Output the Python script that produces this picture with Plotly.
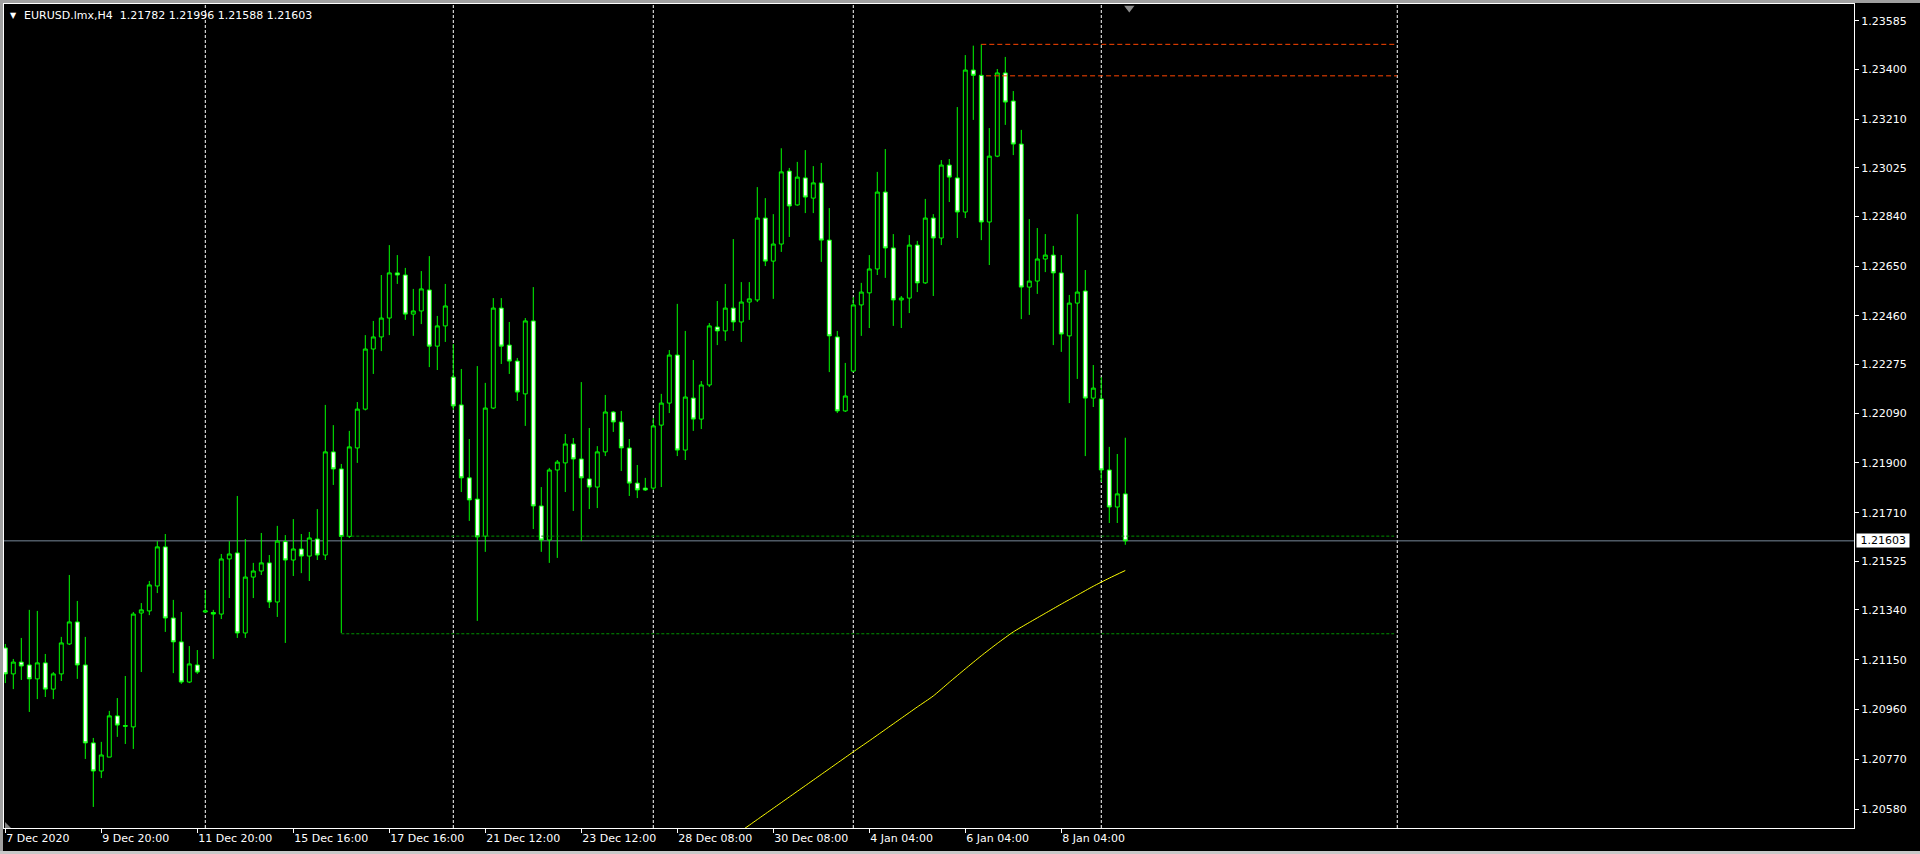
import plotly.graph_objects as go

# ---------------- data ----------------
bars = list(range(141))

opens = [1.21195, 1.21096, 1.21141, 1.21130, 1.21077, 1.21138, 1.21038, 1.21096, 1.21210, 1.21294,
         1.21130, 1.20833, 1.20726, 1.20779, 1.20936, 1.20899, 1.20894, 1.21328, 1.21336, 1.21431,
         1.21580, 1.21309, 1.21218, 1.21065, 1.21130, 1.21332, 1.21330, 1.21324, 1.21534, 1.21557,
         1.21252, 1.21465, 1.21488, 1.21519, 1.21370, 1.21600, 1.21530, 1.21572, 1.21545, 1.21610,
         1.21549, 1.21942, 1.21877, 1.21620, 1.21957, 1.22105, 1.22334, 1.22380, 1.22452, 1.22624,
         1.22616, 1.22467, 1.22479, 1.22559, 1.22345, 1.22422, 1.22227, 1.22121, 1.21843, 1.21762,
         1.21621, 1.22109, 1.22490, 1.22349, 1.22288, 1.22163, 1.22441, 1.21736, 1.21606, 1.21873,
         1.21900, 1.21972, 1.21915, 1.21839, 1.21808, 1.21942, 1.22094, 1.22056, 1.21957, 1.21823,
         1.21804, 1.21804, 1.22044, 1.22128, 1.22311, 1.21949, 1.22147, 1.22067, 1.22197, 1.22418,
         1.22403, 1.22490, 1.22437, 1.22513, 1.22521, 1.22833, 1.22669, 1.22734, 1.23012, 1.22883,
         1.22986, 1.22909, 1.22967, 1.22749, 1.22380, 1.22098, 1.22250, 1.22502, 1.22548, 1.22639,
         1.22932, 1.22719, 1.22521, 1.22528, 1.22730, 1.22586, 1.22833, 1.22757, 1.23035, 1.22986,
         1.22856, 1.23397, 1.23377, 1.22818, 1.23069, 1.23386, 1.23279, 1.23115, 1.22570, 1.22593,
         1.22677, 1.22692, 1.22624, 1.22384, 1.22509, 1.22555, 1.22147, 1.22144, 1.21873, 1.21732,
         1.21782]

highs = [1.21210, 1.21153, 1.21233, 1.21340, 1.21336, 1.21172, 1.21103, 1.21237, 1.21473, 1.21374,
         1.21237, 1.20852, 1.20837, 1.20955, 1.21004, 1.21088, 1.21332, 1.21366, 1.21450, 1.21602,
         1.21629, 1.21378, 1.21332, 1.21202, 1.21187, 1.21416, 1.21340, 1.21553, 1.21602, 1.21774,
         1.21610, 1.21519, 1.21633, 1.21549, 1.21660, 1.21625, 1.21686, 1.21629, 1.21637, 1.21724,
         1.22121, 1.22044, 1.21896, 1.22022, 1.22132, 1.22387, 1.22441, 1.22616, 1.22730, 1.22692,
         1.22643, 1.22563, 1.22631, 1.22688, 1.22460, 1.22582, 1.22353, 1.22258, 1.21991, 1.22269,
         1.22205, 1.22528, 1.22528, 1.22437, 1.22300, 1.22452, 1.22570, 1.21808, 1.21881, 1.21911,
         1.22010, 1.21995, 1.22208, 1.22033, 1.21964, 1.22159, 1.22098, 1.22098, 1.21991, 1.21892,
         1.21843, 1.22071, 1.22163, 1.22330, 1.22506, 1.22403, 1.22292, 1.22212, 1.22433, 1.22517,
         1.22582, 1.22753, 1.22589, 1.22589, 1.22951, 1.22909, 1.22848, 1.23099, 1.23024, 1.23047,
         1.23092, 1.23031, 1.23043, 1.22871, 1.22403, 1.22281, 1.22532, 1.22586, 1.22692, 1.23009,
         1.23096, 1.22772, 1.22536, 1.22768, 1.22746, 1.22906, 1.22848, 1.23054, 1.23058, 1.23256,
         1.23454, 1.23490, 1.23495, 1.23176, 1.23401, 1.23447, 1.23317, 1.23169, 1.22829, 1.22795,
         1.22772, 1.22727, 1.22692, 1.22540, 1.22848, 1.22635, 1.22273, 1.22227, 1.21961, 1.21934,
         1.21996]

lows = [1.21061, 1.21038, 1.21073, 1.20951, 1.21000, 1.21008, 1.21000, 1.21069, 1.21206, 1.21077,
        1.20772, 1.20589, 1.20699, 1.20779, 1.20856, 1.20829, 1.20810, 1.21103, 1.21320, 1.21404,
        1.21256, 1.21099, 1.21058, 1.21061, 1.21096, 1.21328, 1.21153, 1.21305, 1.21385, 1.21233,
        1.21233, 1.21385, 1.21473, 1.21347, 1.21313, 1.21214, 1.21469, 1.21480, 1.21450, 1.21530,
        1.21530, 1.21816, 1.21252, 1.21614, 1.21900, 1.22100, 1.22239, 1.22326, 1.22387, 1.22582,
        1.22445, 1.22384, 1.22429, 1.22265, 1.22254, 1.22361, 1.22102, 1.21789, 1.21679, 1.21298,
        1.21561, 1.22105, 1.22277, 1.22239, 1.22136, 1.22041, 1.21648, 1.21561, 1.21519, 1.21538,
        1.21789, 1.21717, 1.21602, 1.21724, 1.21728, 1.21926, 1.22018, 1.21869, 1.21774, 1.21766,
        1.21793, 1.21797, 1.21808, 1.22090, 1.21926, 1.21911, 1.22022, 1.22029, 1.22189, 1.22349,
        1.22365, 1.22403, 1.22361, 1.22445, 1.22513, 1.22650, 1.22525, 1.22704, 1.22761, 1.22880,
        1.22852, 1.22852, 1.22666, 1.22246, 1.22090, 1.22094, 1.22246, 1.22384, 1.22414, 1.22616,
        1.22605, 1.22422, 1.22414, 1.22471, 1.22551, 1.22582, 1.22536, 1.22730, 1.22894, 1.22757,
        1.22833, 1.23207, 1.22749, 1.22654, 1.23065, 1.23188, 1.23073, 1.22448, 1.22464, 1.22544,
        1.22627, 1.22349, 1.22323, 1.22128, 1.22220, 1.21926, 1.22113, 1.21827, 1.21671, 1.21671,
        1.21588]

closes = [1.21096, 1.21141, 1.21126, 1.21077, 1.21138, 1.21038, 1.21096, 1.21214, 1.21294, 1.21130,
          1.20833, 1.20726, 1.20787, 1.20936, 1.20901, 1.20897, 1.21324, 1.21340, 1.21435, 1.21580,
          1.21309, 1.21218, 1.21065, 1.21134, 1.21103, 1.21336, 1.21324, 1.21534, 1.21553, 1.21252,
          1.21465, 1.21488, 1.21519, 1.21370, 1.21602, 1.21530, 1.21572, 1.21545, 1.21614, 1.21549,
          1.21942, 1.21877, 1.21620, 1.21961, 1.22105, 1.22334, 1.22380, 1.22452, 1.22624, 1.22616,
          1.22467, 1.22479, 1.22563, 1.22345, 1.22422, 1.22498, 1.22117, 1.21843, 1.21759, 1.21618,
          1.22109, 1.22490, 1.22345, 1.22288, 1.22170, 1.22441, 1.21736, 1.21606, 1.21873, 1.21903,
          1.21972, 1.21915, 1.21843, 1.21808, 1.21942, 1.22094, 1.22056, 1.21957, 1.21823, 1.21797,
          1.21797, 1.22041, 1.22128, 1.22311, 1.21949, 1.22151, 1.22067, 1.22197, 1.22422, 1.22403,
          1.22490, 1.22437, 1.22513, 1.22525, 1.22833, 1.22669, 1.22734, 1.23009, 1.22879, 1.22989,
          1.22913, 1.22967, 1.22749, 1.22384, 1.22098, 1.22155, 1.22502, 1.22551, 1.22639, 1.22932,
          1.22719, 1.22521, 1.22528, 1.22730, 1.22586, 1.22833, 1.22757, 1.23035, 1.22989, 1.22856,
          1.23397, 1.23377, 1.22818, 1.23069, 1.23386, 1.23275, 1.23115, 1.22570, 1.22593, 1.22677,
          1.22692, 1.22624, 1.22391, 1.22509, 1.22551, 1.22147, 1.22185, 1.21873, 1.21732, 1.21782,
          1.21603]

# moving average (yellow) read at selected bars
ma_bars = [90, 92, 94, 96, 98, 100, 102, 104, 106, 108, 110, 112, 114, 116, 118, 120,
           122, 124, 126, 128, 130, 132, 134, 136, 138, 140]
ma_values = [1.20455, 1.20498, 1.20541, 1.20584, 1.20627, 1.20670, 1.20713, 1.20756, 1.20799,
             1.20841, 1.20884, 1.20927, 1.20970, 1.21012, 1.21064, 1.21115, 1.21165, 1.21212,
             1.21256, 1.21292, 1.21327, 1.21362, 1.21396, 1.21430, 1.21461, 1.21490]

# date axis
tick_bars = [0, 12, 24, 36, 48, 60, 72, 84, 96, 108, 120, 132]
tick_labels = ["7 Dec 2020", "9 Dec 20:00", "11 Dec 20:00", "15 Dec 16:00", "17 Dec 16:00",
               "21 Dec 12:00", "23 Dec 12:00", "28 Dec 08:00", "30 Dec 08:00", "4 Jan 04:00",
               "6 Jan 04:00", "8 Jan 04:00"]

# weekly period separators (bar index)
separator_bars = [25, 56, 81, 106, 137, 174]

# price axis labels
price_ticks = [1.23585, 1.23400, 1.23210, 1.23025, 1.22840, 1.22650, 1.22460, 1.22275, 1.22090,
               1.21900, 1.21710, 1.21525, 1.21340, 1.21150, 1.20960, 1.20770, 1.20580]

# horizontal level lines
green_levels = [1.21621, 1.21249]
green_start, green_end = 42, 173.6
red_levels = [1.23495, 1.23375]
red_starts = [122, 122.6]
red_end = 174

symbol = "EURUSD.lmx,H4"
last_ohlc = [1.21782, 1.21996, 1.21588, 1.21603]
current_price = 1.21603

# ---------------- figure ----------------
FONT = "DejaVu Sans"
x_range = [-0.1625, 231.09]
y_range = [1.205088, 1.236487]

fig = go.Figure()

for lvl in green_levels:
    fig.add_trace(go.Scatter(x=[green_start, green_end], y=[lvl, lvl], mode="lines",
                             line=dict(color="#009000", width=1, dash="3px,2px"),
                             hoverinfo="skip", showlegend=False))
for lvl, st in zip(red_levels, red_starts):
    fig.add_trace(go.Scatter(x=[st, red_end], y=[lvl, lvl], mode="lines",
                             line=dict(color="#FF4500", width=1, dash="5px,3px"),
                             hoverinfo="skip", showlegend=False))

fig.add_trace(go.Scatter(x=ma_bars, y=ma_values, mode="lines",
                         line=dict(color="#FFFF00", width=1, shape="spline", smoothing=0.6),
                         hoverinfo="skip", showlegend=False))

fig.add_trace(go.Candlestick(
    x=bars, open=opens, high=highs, low=lows, close=closes,
    increasing=dict(line=dict(color="#00FF00", width=1), fillcolor="#000000"),
    decreasing=dict(line=dict(color="#00FF00", width=1), fillcolor="#FFFFFF"),
    whiskerwidth=0, hoverinfo="skip", showlegend=False))

# chart-shift marker at the top
fig.add_trace(go.Scatter(x=[140.5], y=[1.23633], mode="markers",
                         marker=dict(symbol="triangle-down", size=9, color="#8c8c8c"),
                         cliponaxis=False, hoverinfo="skip", showlegend=False))

shapes = []
for b in separator_bars:
    shapes.append(dict(type="line", xref="x", yref="paper", x0=b, x1=b, y0=0, y1=1,
                       line=dict(color="#FFFFFF", width=1, dash="3px,2px"), layer="below"))
shapes.append(dict(type="line", xref="paper", yref="y", x0=0, x1=1,
                   y0=current_price, y1=current_price,
                   line=dict(color="#778899", width=1), layer="below"))
# window frame strips
W, H, L, R, T, B = 1920, 854, 4, 1854, 4, 828
def px(xp):
    return (xp - L) / (R - L)
def py(yp):
    return (B - yp) / (B - T)
shapes.append(dict(type="rect", xref="paper", yref="paper", x0=px(0), x1=px(3), y0=py(854), y1=py(0),
                   fillcolor="#a0a0a0", line=dict(width=0)))
shapes.append(dict(type="rect", xref="paper", yref="paper", x0=px(0), x1=px(1920), y0=py(3), y1=py(0),
                   fillcolor="#a0a0a0", line=dict(width=0)))
shapes.append(dict(type="rect", xref="paper", yref="paper", x0=px(0), x1=px(1920), y0=py(854), y1=py(851),
                   fillcolor="#c8c8c8", line=dict(width=0)))
# scale-fix corner marker (bottom-left)
shapes.append(dict(type="path", xref="paper", yref="paper",
                   path=f"M {px(5)},{py(822)} L {px(5)},{py(828)} L {px(11)},{py(828)} Z",
                   fillcolor="#808080", line=dict(width=0)))

title_text = symbol + "\u00a0\u00a0" + " ".join(f"{v:.5f}" for v in last_ohlc)
annotations = [
    dict(xref="paper", yref="paper", x=px(8), y=py(15), xanchor="left", yanchor="middle",
         text="\u25BC", showarrow=False, font=dict(family=FONT, size=8, color="#FFFFFF")),
    dict(xref="paper", yref="paper", x=px(22), y=py(15), xanchor="left", yanchor="middle",
         text=title_text, showarrow=False, font=dict(family=FONT, size=11, color="#FFFFFF")),
    dict(xref="paper", yref="y", x=1, xshift=2, y=current_price, xanchor="left", yanchor="middle",
         text="\u00a0" + f"{current_price:.5f}" + "\u00a0", showarrow=False, bgcolor="#FFFFFF",
         borderpad=0, font=dict(family=FONT, size=11, color="#000000")),
]

fig.update_layout(
    width=W, height=H,
    margin=dict(l=L, r=W - R, t=T, b=H - B, pad=0),
    paper_bgcolor="#000000", plot_bgcolor="#000000",
    showlegend=False,
    font=dict(family=FONT, size=11, color="#FFFFFF"),
    shapes=shapes, annotations=annotations,
    xaxis=dict(range=x_range, rangeslider=dict(visible=False), showgrid=False, zeroline=False,
               tickmode="array", tickvals=tick_bars, ticktext=tick_labels,
               ticks="outside", ticklen=4, tickcolor="#FFFFFF", tickwidth=1,
               ticklabelposition="outside right",
               tickfont=dict(family=FONT, size=11, color="#FFFFFF"),
               showline=True, linecolor="#FFFFFF", linewidth=1, mirror=True),
    yaxis=dict(range=y_range, side="right", showgrid=False, zeroline=False,
               tickmode="array", tickvals=price_ticks, ticktext=[f"{v:.5f}" for v in price_ticks],
               ticks="outside", ticklen=4, tickcolor="#FFFFFF", tickwidth=1,
               tickfont=dict(family=FONT, size=11, color="#FFFFFF"),
               showline=True, linecolor="#FFFFFF", linewidth=1, mirror=True),
)

fig.write_html("out.html", config={"displayModeBar": False},
               post_script="document.body.style.margin='0';document.body.style.overflow='hidden';"
                           "document.body.style.background='#000';")
